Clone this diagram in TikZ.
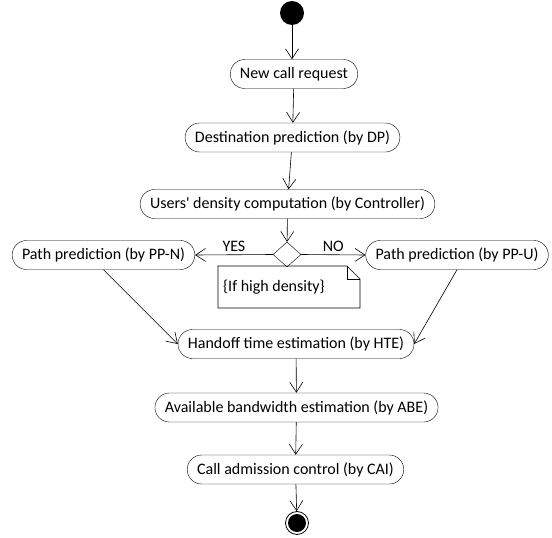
\documentclass[tikz,border=0pt]{standalone}
\usepackage{fontspec}
\setmainfont{Carlito}
\usetikzlibrary{shapes.misc, shapes.geometric, arrows.meta}

\begin{document}
\begin{tikzpicture}[x=1pt, y=-1pt, font=\fontsize{16}{18}\selectfont,
 act/.style={draw, rounded rectangle, minimum height=29pt, inner xsep=8pt},
 flow/.style={-{Straight Barb[length=10pt, width=13pt]}, line width=0.6pt}]
 \useasboundingbox (0,0) rectangle (552,538);
 \node[circle, fill=black, minimum size=24pt, inner sep=0] (start) at (292,13) {};
 \node[act] (newcall) at (294,74) {New call request};
 \node[act] (dest) at (292.5,137.5) {Destination prediction (by DP)};
 \node[act] (users) at (287.5,204) {Users\textquotesingle{} density computation (by Controller)};
 \node[draw, diamond, minimum width=28pt, minimum height=25pt, inner sep=0] (dec) at (287,254.5) {};
 \node[act] (ppn) at (103.5,255) {Path prediction (by PP-N)};
 \node[act] (ppu) at (457,255) {Path prediction (by PP-U)};
 \node[anchor=west, inner sep=0] (note) at (223,287) {\{If high density\}};
 \draw[line width=0.6pt] (218,266) -- (347,266) -- (360,279) -- (360,308) -- (218,308) -- cycle;
 \draw[line width=0.6pt] (347,266) -- (347,279) -- (360,279);
 \node[act] (hte) at (296,344) {Handoff time estimation (by HTE)};
 \node[act] (abe) at (296.5,407.5) {Available bandwidth estimation (by ABE)};
 \node[act] (cac) at (295.5,469.5) {Call admission control (by CAI)};
 \node[circle, draw, line width=0.8pt, minimum size=23pt, inner sep=0] (stop) at (297,523) {};
 \node[circle, fill=black, minimum size=18pt, inner sep=0] at (stop) {};
 \draw[flow] (start) -- (start |- newcall.north);
 \draw[flow] (newcall) -- (dest);
 \draw[flow] (dest) -- (users);
 \draw[flow] (users) -- (dec);
 \draw[flow] (dec.west) -- node[above] {YES} (ppn.east);
 \draw[flow] (dec.east) -- node[above] {NO} (ppu.west);
 \draw[flow] (ppn.south) -- (hte.west);
 \draw[flow] (ppu.south) -- (hte.east);
 \draw[flow] (hte) -- (abe);
 \draw[flow] (abe) -- (cac);
 \draw[flow] (cac) -- (stop);
\end{tikzpicture}
\end{document}
